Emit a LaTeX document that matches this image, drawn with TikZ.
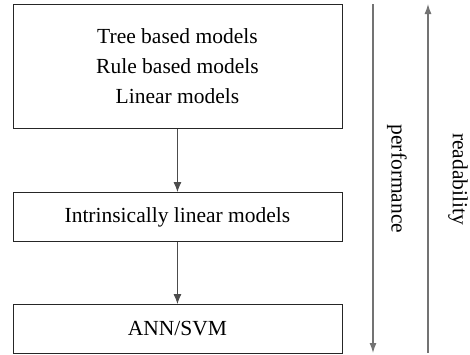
\documentclass[tikz,border=0pt]{standalone}
\usepackage{fontspec}
\setmainfont{Liberation Serif}
\usetikzlibrary{arrows.meta}
\begin{document}
\begin{tikzpicture}[x=1pt,y=-1pt,
  box/.style={draw=black!85,line width=0.9pt,minimum width=329pt,anchor=north west,inner sep=0pt,font=\fontsize{21.5}{30}\selectfont,align=center},
  conn/.style={draw=black!70,line width=0.9pt,-{Latex[length=10pt,width=8pt]}},
  axis/.style={draw=black!55,line width=1.2pt,-{Latex[length=10pt,width=7pt]}},
  lbl/.style={font=\fontsize{21.5}{26}\selectfont,rotate=-90,inner sep=0pt}]
\useasboundingbox (0,0) rectangle (470,354);
\node[box,minimum height=124pt] (a) at (12.5,4) {Tree based models\\Rule based models\\Linear models};
\node[box,minimum height=49pt] (b) at (12.5,192) {Intrinsically linear models};
\node[box,minimum height=49pt] (c) at (12.5,304) {ANN/SVM};
\draw[conn] (a.south) -- (b.north);
\draw[conn] (b.south) -- (c.north);
\coordinate (p1) at (373,4);
\coordinate (p2) at (373,353);
\coordinate (r1) at (428,353);
\coordinate (r2) at (428,4);
\draw[axis] (p1) -- (p2);
\draw[axis] (r1) -- (r2);
\node[lbl] (pl) at (397,179) {performance};
\node[lbl] (rl) at (458,179) {readability};
\end{tikzpicture}
\end{document}
